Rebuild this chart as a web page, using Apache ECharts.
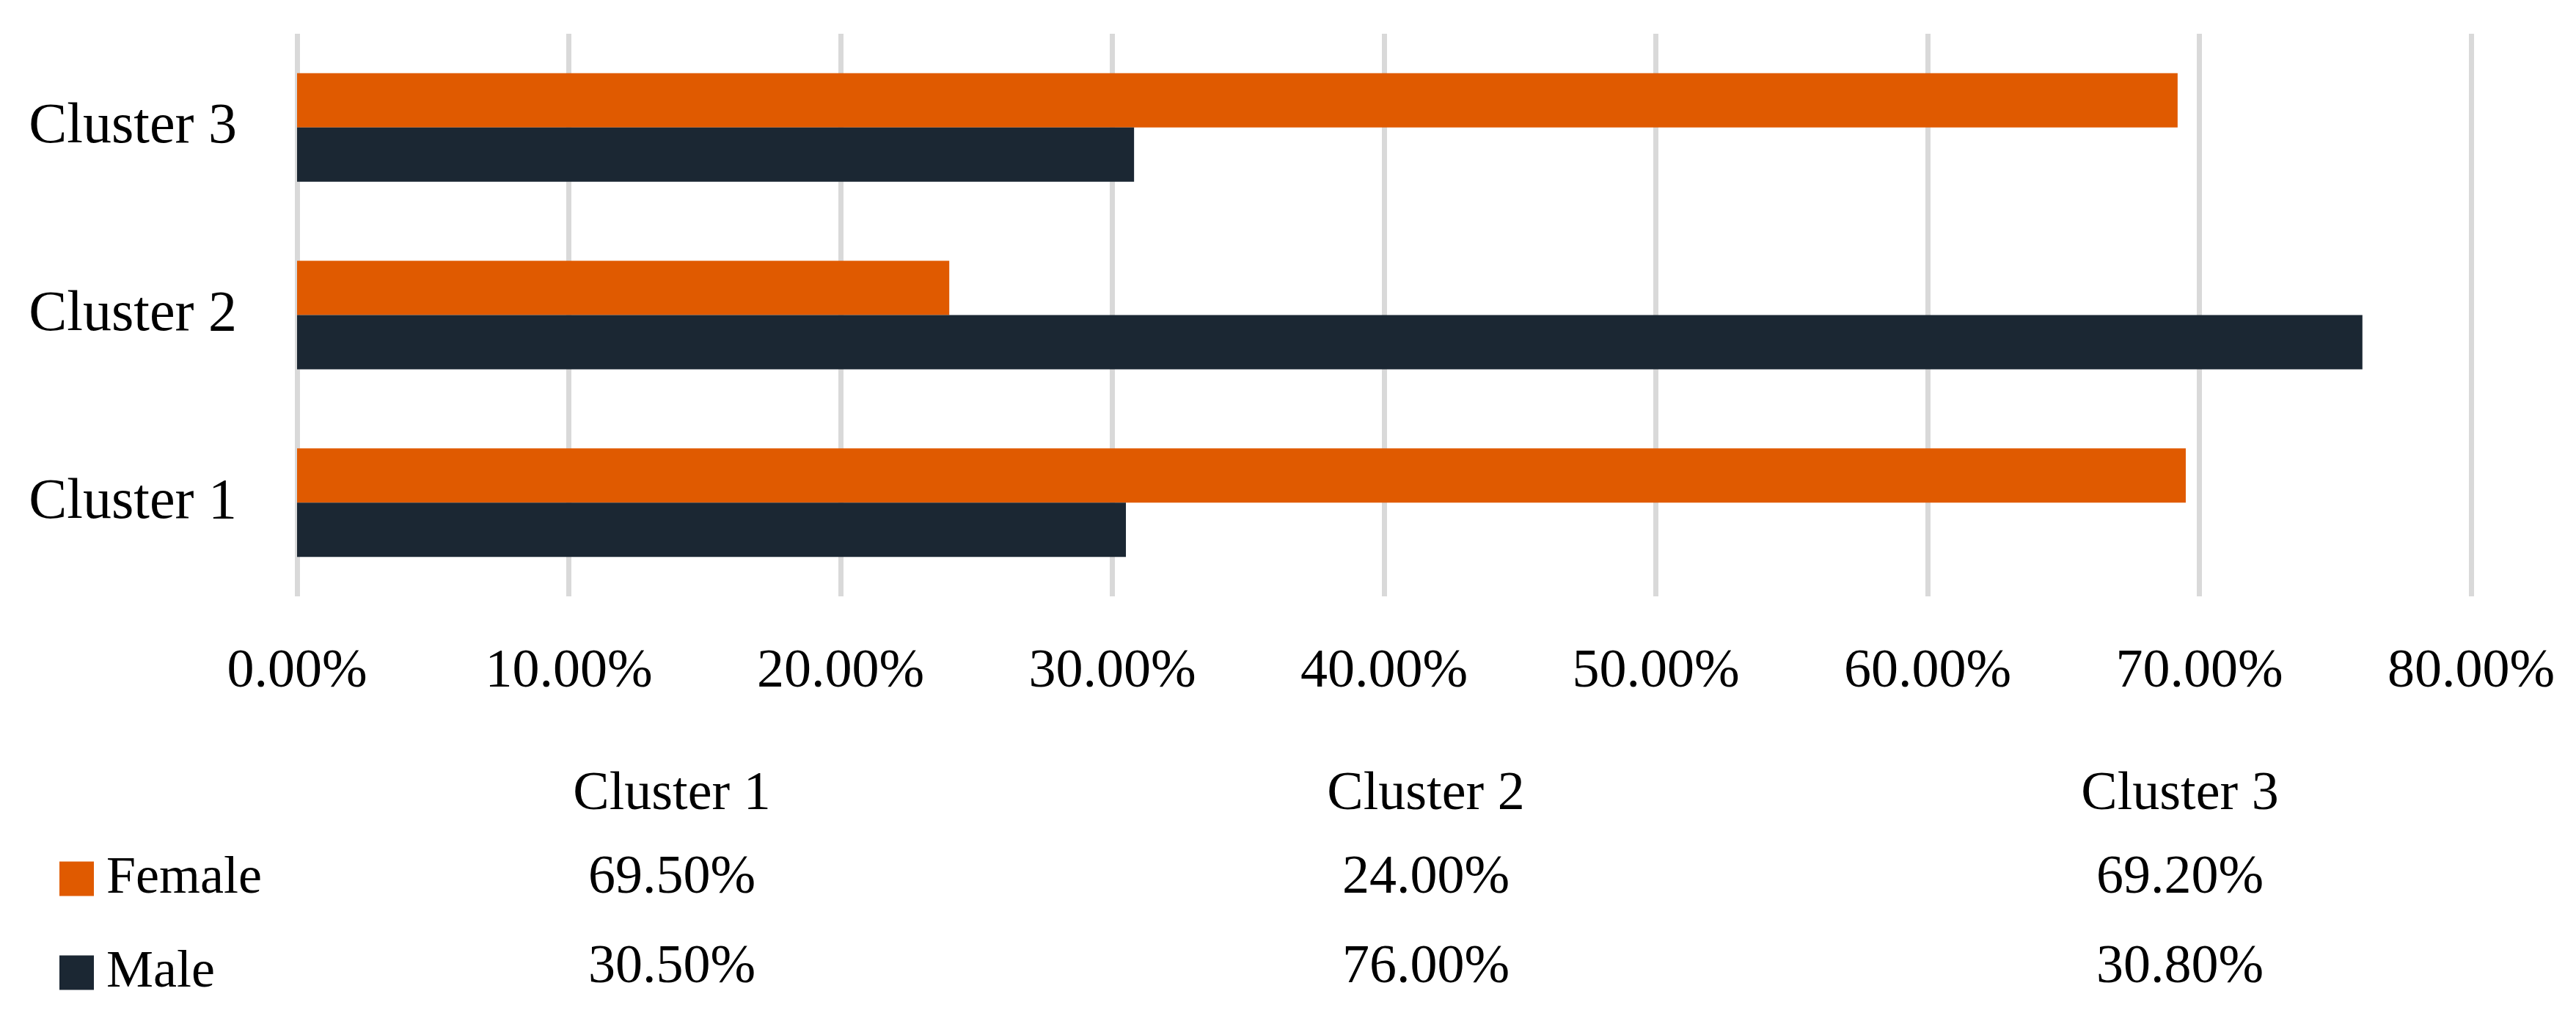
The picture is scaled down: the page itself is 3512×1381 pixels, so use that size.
<!DOCTYPE html>
<html>
<head>
<meta charset="utf-8">
<script src="https://cdn.jsdelivr.net/npm/echarts@6/dist/echarts.min.js"></script>
<style>html,body{margin:0;padding:0;background:#fff}#c{width:3512px;height:1381px}</style>
</head>
<body>
<div id="c"></div>
<script>
const categories = ['Cluster 1', 'Cluster 2', 'Cluster 3'];
const female = [69.5, 24.0, 69.2];
const male = [30.5, 76.0, 30.8];
const rows = ['Female', 'Male'];
const xTicks = [0, 10, 20, 30, 40, 50, 60, 70, 80];

const FONT = '"Liberation Serif", "DejaVu Serif", serif';
const ORANGE = '#E05A00';
const DARK = '#1B2733';
const GRID = '#D9D9D9';

const tableData = [];
categories.forEach((c, i) => {
  tableData.push([c, 'Female', female[i]]);
  tableData.push([c, 'Male', male[i]]);
});

const legendText = { fontFamily: FONT, fontSize: 72, color: '#000', padding: [0, 0, 0, 12] };

const chart = echarts.init(document.getElementById('c'));
chart.setOption({
  backgroundColor: '#fff',
  animation: false,
  textStyle: { fontFamily: FONT },
  legend: [
    {
      orient: 'vertical', left: 76, top: 1157, itemWidth: 47, itemHeight: 47, icon: 'rect',
      data: ['Female'], textStyle: legendText, selectedMode: false
    },
    {
      orient: 'vertical', left: 76, top: 1285, itemWidth: 47, itemHeight: 47, icon: 'rect',
      data: ['Male'], textStyle: legendText, selectedMode: false
    }
  ],
  grid: [
    { left: 405, right: 143, top: 46, height: 767 },
    { left: 402, right: 26, top: 1136, height: 254 }
  ],
  xAxis: [
    {
      gridIndex: 0, type: 'value', min: xTicks[0], max: xTicks[xTicks.length - 1], interval: 10,
      axisLine: { show: false }, axisTick: { show: false },
      splitLine: { show: true, lineStyle: { color: GRID, width: 7 } },
      axisLabel: { margin: 67, fontFamily: FONT, fontSize: 74, color: '#000', formatter: v => v.toFixed(2) + '%' }
    },
    {
      gridIndex: 1, type: 'category', data: categories, position: 'top',
      axisLine: { show: false }, axisTick: { show: false }, splitLine: { show: false },
      axisLabel: { margin: 15, fontFamily: FONT, fontSize: 74, color: '#000' }
    }
  ],
  yAxis: [
    {
      gridIndex: 0, type: 'category', data: categories,
      axisLine: { show: false }, axisTick: { show: false },
      axisLabel: { margin: 82, fontFamily: FONT, fontSize: 78, color: '#000' }
    },
    {
      gridIndex: 1, type: 'category', data: rows, inverse: true,
      axisLine: { show: false }, axisTick: { show: false }, axisLabel: { show: false }, splitLine: { show: false }
    }
  ],
  series: [
    {
      name: 'Female', type: 'bar', xAxisIndex: 0, yAxisIndex: 0, data: female,
      barWidth: 74, barGap: '0%', itemStyle: { color: ORANGE }
    },
    {
      name: 'Male', type: 'bar', xAxisIndex: 0, yAxisIndex: 0, data: male,
      barWidth: 74, barGap: '0%', itemStyle: { color: DARK }
    },
    {
      name: 'table', type: 'scatter', xAxisIndex: 1, yAxisIndex: 1, data: tableData,
      symbolSize: 1, itemStyle: { color: '#fff', opacity: 1 }, silent: true,
      label: { show: true, position: 'inside', fontFamily: FONT, fontSize: 74, color: '#000',
               opacity: 1, textBorderWidth: 0, formatter: p => p.value[2].toFixed(2) + '%' }
    }
  ]
});
</script>
</body>
</html>
